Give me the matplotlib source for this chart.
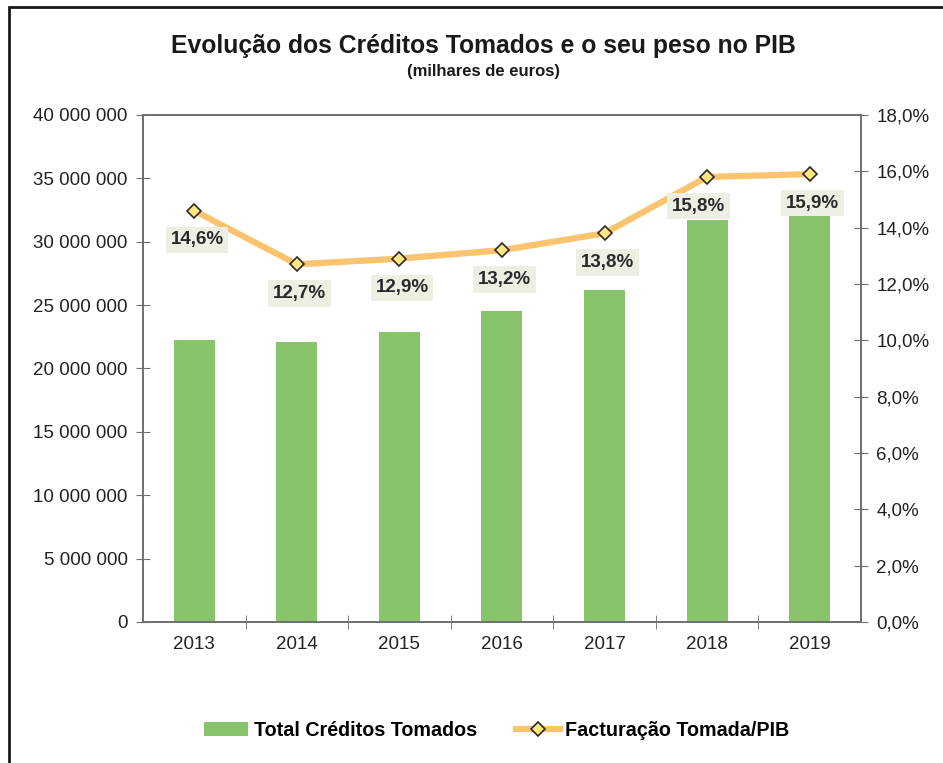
import matplotlib
matplotlib.use("Agg")
import matplotlib.pyplot as plt
import matplotlib.patches as patches
from matplotlib.ticker import FuncFormatter, MultipleLocator

plt.rcParams['font.family'] = ['Liberation Sans', 'DejaVu Sans']

years = ["2013", "2014", "2015", "2016", "2017", "2018", "2019"]
creditos = [22250000, 22100000, 22900000, 24500000, 26200000, 31700000, 33000000]
peso_pib = [14.6, 12.7, 12.9, 13.2, 13.8, 15.8, 15.9]
pct_labels = ["14,6%", "12,7%", "12,9%", "13,2%", "13,8%", "15,8%", "15,9%"]

bar_color = "#88C46A"
line_color = "#FAC46E"
axis_gray = "#6E6E6E"

fig = plt.figure(figsize=(9.43, 7.63), dpi=100)
ax = fig.add_axes([0.1516, 0.1848, 0.913 - 0.1516, 0.8493 - 0.1848])

x = list(range(len(years)))
bars = ax.bar(x, creditos, width=0.4, color=bar_color, zorder=2,
              label="Total Créditos Tomados")
ax.set_xlim(-0.5, len(years) - 0.5)
ax.set_ylim(0, 40000000)
ax.yaxis.set_major_locator(MultipleLocator(5000000))
ax.yaxis.set_major_formatter(FuncFormatter(lambda v, p: f"{int(v):,}".replace(",", " ")))
ax.set_xticks(x)
ax.set_xticklabels(years)
ax.set_xticks([i + 0.5 for i in x[:-1]], minor=True)
ax.tick_params(axis='x', which='major', length=0, pad=10, labelsize=13.5, colors="#222222")
ax.tick_params(axis='x', which='minor', direction='inout', length=10, color=axis_gray)
ax.tick_params(axis='y', direction='inout', length=10, color=axis_gray,
               labelsize=13.5, labelcolor="#222222", pad=6)
for s in ax.spines.values():
    s.set_color(axis_gray)
    s.set_linewidth(1.2)

ax2 = ax.twinx()
ax2.set_ylim(0, 18)
ax2.yaxis.set_major_locator(MultipleLocator(2))
ax2.yaxis.set_major_formatter(FuncFormatter(lambda v, p: f"{v:.1f}%".replace(".", ",")))
ax2.tick_params(axis='y', direction='inout', length=10, color=axis_gray,
                labelsize=13.5, labelcolor="#222222", pad=6)
for s in ax2.spines.values():
    s.set_color(axis_gray)
    s.set_linewidth(1.2)

line, = ax2.plot(x, peso_pib, color=line_color, linewidth=4.5, marker='D',
                 markersize=7, markerfacecolor="#FFE680", markeredgecolor="#2A2A2A",
                 markeredgewidth=1.2, zorder=3, label="Facturação Tomada/PIB")

# label offsets (points) below each marker
label_dx = [2, 2, 2, 2, 2, -6, 2]
for xi, yi, lab, dx in zip(x, peso_pib, pct_labels, label_dx):
    ax2.annotate(lab, (xi, yi), xytext=(dx, -21), textcoords='offset points',
                 ha='center', va='center', fontsize=13.5, fontweight='bold', color="#2A2A2A",
                 bbox=dict(boxstyle='square,pad=0.25', facecolor="#EEEEE3", edgecolor='none'),
                 zorder=4)

fig.text(0.513, 0.940, "Evolução dos Créditos Tomados e o seu peso no PIB",
         ha='center', va='center', fontsize=17.8, fontweight='bold', color="#1A1A1A")
fig.text(0.513, 0.906, "(milhares de euros)", ha='center', va='center',
         fontsize=12, fontweight='bold', color="#1A1A1A")

fig.legend(handles=[bars, line], loc='center', bbox_to_anchor=(0.527, 0.043), ncol=2,
           frameon=False, prop={'weight': 'bold', 'size': 14.2}, handlelength=2.2,
           columnspacing=2.0, handletextpad=0.3)

border = patches.Rectangle((9 / 943, -0.1), 1.2, 1.1 - 7 / 763, transform=fig.transFigure,
                           fill=False, edgecolor="#1A1A1A", linewidth=2, clip_on=False)
fig.patches.append(border)

fig.savefig("out.png", dpi=100)
